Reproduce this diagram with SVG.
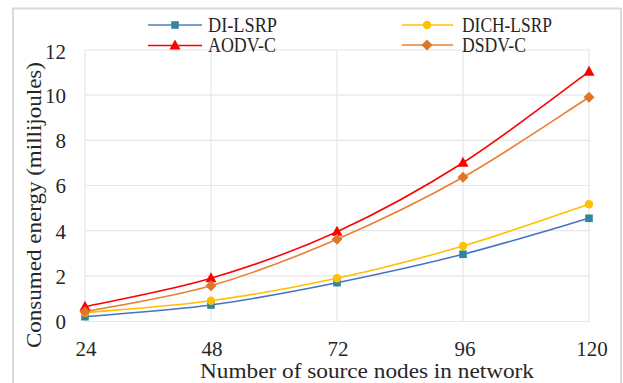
<svg xmlns="http://www.w3.org/2000/svg" width="623" height="383" viewBox="0 0 623 383">
<style>
text{font-family:"Liberation Serif","Times New Roman",serif;fill:#262626}
.ytick{font-size:21px;text-anchor:end}
.xtick{font-size:21px;text-anchor:middle}
.leg{font-size:20px}
.title{font-size:21px}
.grid{stroke:#e6e6e6;stroke-width:1.2;fill:none}
.s{fill:none;stroke-width:1.6}
</style>
<defs>
<rect id="sq" x="-3.8" y="-3.8" width="7.6" height="7.6" fill="#31859C"/>
<circle id="ci" r="4.2" fill="#FFC000"/>
<polygon id="tr" points="0,-6 5.5,4 -5.5,4" fill="#FF0000"/>
<polygon id="di" points="0,-5.5 5.5,0 0,5.5 -5.5,0" fill="#E07525"/>
</defs>
<rect x="13" y="8.5" width="608" height="400" fill="#ffffff" stroke="#d9d9d9" stroke-width="2"/>
<g id="grid">
<path class="grid" d="M85,50H590M85,95.2H590M85,140.3H590M85,185.5H590M85,230.7H590M85,275.9H590M85,321.5H590"/>
<path class="grid" d="M85,50V321.5M211,50V321.5M337,50V321.5M463,50V321.5M589,50V321.5"/>
</g>
<g id="y-axis">
<text class="ytick" x="66" y="58.5">12</text>
<text class="ytick" x="66" y="103">10</text>
<text class="ytick" x="66" y="148">8</text>
<text class="ytick" x="66" y="193">6</text>
<text class="ytick" x="66" y="238.5">4</text>
<text class="ytick" x="66" y="283.5">2</text>
<text class="ytick" x="66" y="329">0</text>
<text class="title" transform="translate(41,205) rotate(-90)" text-anchor="middle" textLength="286" lengthAdjust="spacingAndGlyphs">Consumed energy (millijoules)</text>
</g>
<g id="x-axis">
<text class="xtick" x="86" y="356">24</text>
<text class="xtick" x="212" y="356">48</text>
<text class="xtick" x="338" y="356">72</text>
<text class="xtick" x="465" y="356">96</text>
<text class="xtick" x="592" y="356">120</text>
<text class="title" x="367" y="378" text-anchor="middle" textLength="334" lengthAdjust="spacingAndGlyphs">Number of source nodes in network</text>
</g>
<g id="connectors">
<path id="line-di-lsrp" class="s" stroke="#4472C4" d="M85,316.7C106,314.75 169,310.67 211,305C253,299.33 295,291.15 337,282.7C379,274.25 421,265.03 463,254.3C505,243.57 568,224.3 589,218.3"/>
<path id="line-dich-lsrp" class="s" stroke="#FFC000" d="M85,312.7C106,310.7 169,306.43 211,300.7C253,294.97 295,287.42 337,278.3C379,269.18 421,258.33 463,246C505,233.67 568,211.25 589,204.3"/>
<path id="line-aodv-c" class="s" stroke="#FF0000" d="M85,306.7C106,301.97 169,290.8 211,278.3C253,265.8 295,250.97 337,231.7C379,212.43 421,189.37 463,162.7C505,136.03 568,86.87 589,71.7"/>
<path id="line-dsdv-c" class="s" stroke="#ED7D31" d="M85,311.7C106,307.37 169,297.77 211,285.7C253,273.63 295,257.37 337,239.3C379,221.23 421,200.97 463,177.3C505,153.63 568,110.63 589,97.3"/>
</g>
<g id="series-di-lsrp">
<use href="#sq" x="85" y="316.7"/><use href="#sq" x="211" y="305"/><use href="#sq" x="337" y="282.7"/><use href="#sq" x="463" y="254.3"/><use href="#sq" x="589" y="218.3"/>
</g>
<g id="series-dich-lsrp">
<use href="#ci" x="85" y="312.7"/><use href="#ci" x="211" y="300.7"/><use href="#ci" x="337" y="278.3"/><use href="#ci" x="463" y="246"/><use href="#ci" x="589" y="204.3"/>
</g>
<g id="series-aodv-c">
<use href="#tr" x="85" y="306.7"/><use href="#tr" x="211" y="278.3"/><use href="#tr" x="337" y="231.7"/><use href="#tr" x="463" y="162.7"/><use href="#tr" x="589" y="71.7"/>
</g>
<g id="series-dsdv-c">
<use href="#di" x="85" y="311.7"/><use href="#di" x="211" y="285.7"/><use href="#di" x="337" y="239.3"/><use href="#di" x="463" y="177.3"/><use href="#di" x="589" y="97.3"/>
</g>
<g id="legend">
<g id="legend-di-lsrp"><path class="s" stroke="#4F81BD" d="M148,25H202"/><use href="#sq" x="175" y="25"/><text class="leg" x="208" y="32" textLength="69" lengthAdjust="spacingAndGlyphs">DI-LSRP</text></g>
<g id="legend-aodv-c"><path class="s" stroke="#FF0000" d="M148,45.5H202"/><use href="#tr" x="175" y="45.5"/><text class="leg" x="208" y="52" textLength="68" lengthAdjust="spacingAndGlyphs">AODV-C</text></g>
<g id="legend-dich-lsrp"><path class="s" stroke="#FFC000" d="M402,25H453"/><use href="#ci" x="427" y="25"/><text class="leg" x="462" y="32" textLength="90" lengthAdjust="spacingAndGlyphs">DICH-LSRP</text></g>
<g id="legend-dsdv-c"><path class="s" stroke="#ED7D31" d="M402,45H453"/><use href="#di" x="427" y="45"/><text class="leg" x="462" y="52" textLength="64" lengthAdjust="spacingAndGlyphs">DSDV-C</text></g>
</g>
</svg>
